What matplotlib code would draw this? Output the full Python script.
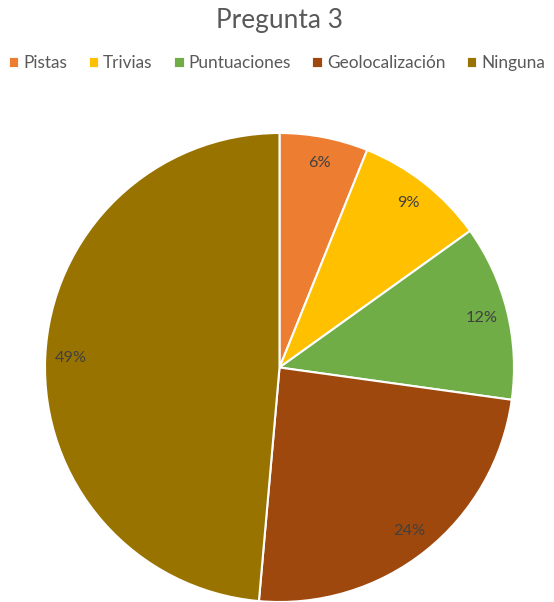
import matplotlib
matplotlib.use("Agg")
import matplotlib.pyplot as plt
from matplotlib.patches import Patch

plt.rcParams['font.family'] = ['Lato', 'DejaVu Sans']

# Datos (porcentajes)
categorias = ['Pistas', 'Trivias', 'Puntuaciones', 'Geolocalización', 'Ninguna']
valores = [6.1, 9.0, 12.1, 24.2, 48.6]
colores = ['#ED7D31', '#FFC000', '#70AD47', '#9E480E', '#997300']
titulo = 'Pregunta 3'

W, H = 554, 602
fig = plt.figure(figsize=(W / 100, H / 100), dpi=100)
renderer = fig.canvas.get_renderer()


def fit_size(text, target_px):
    # font size (pt) that makes `text` about target_px wide
    t = fig.text(0, 0, text, fontsize=10)
    w = t.get_window_extent(renderer).width
    t.remove()
    return 10 * target_px / w


fs_title = fit_size(titulo, 126)
fs_leg = fit_size('Geolocalización', 119)
fs_lab = fit_size('49%', 32)

# Pie area: center (279.5, 367.5) px, radius 234.5 px
cx, cy, r = 279.5, 367.5, 234.5
ax = fig.add_axes([(cx - r) / W, (H - cy - r) / H, 2 * r / W, 2 * r / H])

wedges, texts, autotexts = ax.pie(
    valores, colors=colores, startangle=90, counterclock=False,
    autopct='%.0f%%', pctdistance=0.89, radius=1,
    wedgeprops=dict(edgecolor='white', linewidth=1.5),
    textprops=dict(color='#404040', fontsize=fs_lab))
ax.set_xlim(-1, 1)
ax.set_ylim(-1, 1)
ax.set_aspect('equal')
ax.axis('off')

fig.text(280 / W, 1 - 28 / H, titulo, ha='center', va='baseline',
         fontsize=fs_title, color='#595959')

em = fs_leg * 100 / 72  # px per em
handles = [Patch(facecolor=c, edgecolor='white', linewidth=0.6) for c in colores]
fig.legend(handles, categorias, loc='center', bbox_to_anchor=(277 / W, 1 - 63 / H),
           ncol=5, frameon=False, fontsize=fs_leg, labelcolor='#595959',
           handlelength=9.5 / em, handleheight=9.5 / em, handletextpad=5 / em,
           columnspacing=21.5 / em, borderpad=0)

fig.savefig('out.png', dpi=100, facecolor='white')
plt.close(fig)
